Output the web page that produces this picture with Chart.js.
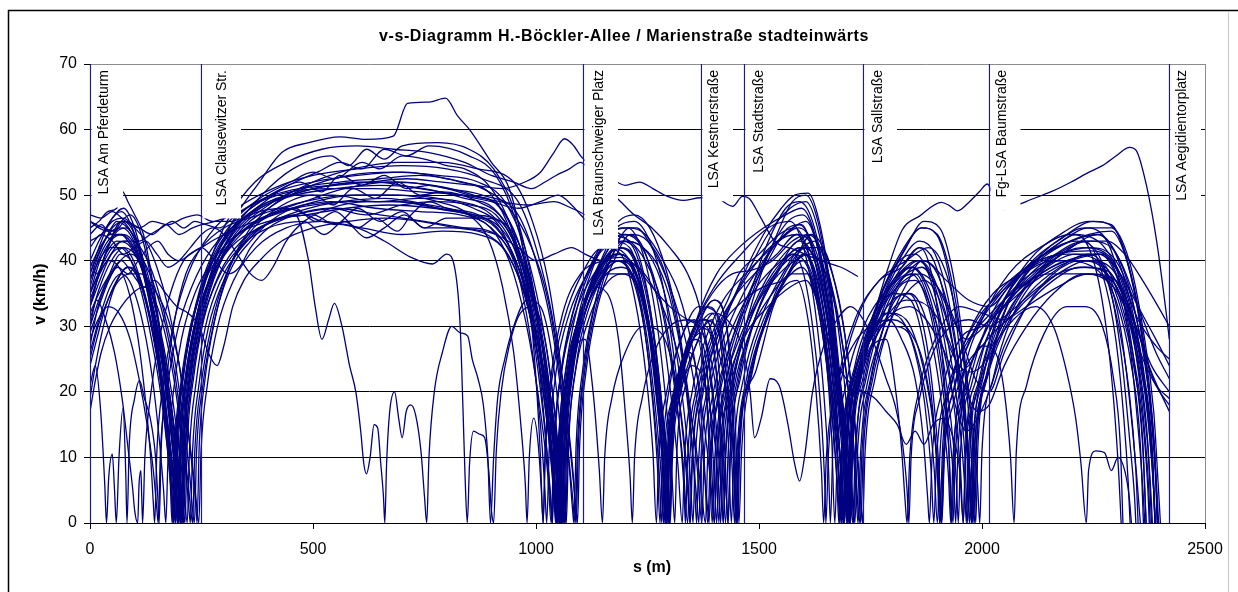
<!DOCTYPE html>
<html>
<head>
<meta charset="utf-8">
<script src="https://cdn.jsdelivr.net/npm/chart.js@4.4.0/dist/chart.umd.min.js"></script>
<style>
html,body{margin:0;padding:0;background:#fff;}
canvas{display:block;}
</style>
</head>
<body>
<canvas id="vs" width="1238" height="592" style="width:1238px;height:592px"></canvas>
<script>
// v-s trajectories, [s (m), v (km/h)]
const trip01=[[0,47],[25,46.5],[50,47.5],[80,46],[110,45],[140,46],[175,45.5],[210,46.5],[240,47],[275,46],[320,46],[360,48],[420,50.5],[500,52],[600,53],[700,53.5],[800,52.5],[880,51],[940,48],[990,42],[1030,33],[1055,22],[1072,11],[1082,4],[1088,0],[1093,12],[1105,22],[1125,31],[1155,39],[1200,44],[1240,42],[1275,33],[1300,21],[1318,9],[1328,0],[1333,10],[1350,20],[1380,28],[1420,34],[1470,38],[1530,42],[1590,45],[1630,41],[1660,32],[1685,19],[1702,8],[1710,0],[1716,11],[1740,22],[1780,32],[1830,38],[1870,40],[1920,37],[1970,34],[2016,33],[2060,36],[2120,40],[2200,43],[2260,44],[2310,40],[2350,33],[2390,26],[2420,22]];
const trip02=[[0,46],[20,45],[40,44.5],[60,46],[85,45],[110,43],[135,44],[160,45],[185,46],[210,45],[235,46],[260,45.5],[290,45],[320,46.5],[360,48.5],[410,50],[470,51],[550,51.5],[630,52],[710,52.5],[790,52],[860,51.5],[925,51],[975,52],[1010,53.5],[1040,56.5],[1064,58.6],[1085,57.5],[1100,56],[1130,54],[1170,52.5],[1200,51.5],[1232,52],[1262,51],[1295,49.8],[1330,49.2],[1369,49.6],[1405,49.5],[1441,48.3],[1463,49.8],[1478,49.5],[1502,46.8],[1535,43],[1580,41.7],[1638,40],[1684,39],[1722,37.6]];
const trip03=[[0,40],[20,43],[45,46],[75,48],[100,45],[125,38],[150,28],[170,18],[185,9],[195,3],[200,0],[205,11],[218,21],[240,30],[275,39],[320,46],[380,52],[430,56.5],[490,58],[560,58.9],[620,58.5],[680,59],[712,64],[760,64.2],[797,64.8],[825,62],[851,60],[900,55],[940,51],[965,44],[985,34],[1000,22],[1010,10],[1016,0],[1021,12],[1035,23],[1060,32],[1100,38],[1150,40],[1190,40.5],[1230,37],[1260,28],[1280,17],[1292,7],[1298,0],[1303,11],[1320,21],[1350,29],[1400,36],[1460,41],[1520,45],[1570,46],[1600,42],[1625,33],[1645,20],[1656,8],[1660,0],[1666,12],[1688,23],[1725,32],[1770,37],[1820,39],[1860,42],[1890,37],[1910,26],[1925,12],[1932,0],[1938,12],[1960,23],[2000,31],[2060,38],[2130,42],[2200,44],[2260,43],[2310,38],[2350,31],[2390,27],[2420,25]];
const trip04=[[0,26],[20,31],[45,36],[70,38],[95,36],[120,30],[140,22],[155,13],[165,5],[170,0],[175,10],[187,20],[205,28],[235,35],[275,40],[330,44],[400,46],[460,47],[490,40],[505,33],[520,28],[535,31],[548,33.5],[565,30],[582,24],[596,20],[607,14],[614,9],[620,7.5],[628,10],[637,15],[645,14.5],[652,9],[658,4],[661,0],[665,9],[672,17],[683,20],[692,16],[700,13],[709,17],[719,18],[730,16.5],[742,11],[750,4],[755,0],[760,10],[772,20],[790,26],[811,30],[830,29],[847,28.5],[857,25],[870,22],[882,18],[892,10],[898,0],[905,10],[914,19],[930,25],[950,30],[980,34],[1010,33],[1035,26],[1055,14],[1064,5],[1068,0],[1073,12],[1090,24],[1120,33],[1165,38],[1210,38],[1250,30],[1275,18],[1288,7],[1293,0],[1299,10],[1320,19],[1350,24],[1380,21],[1400,13],[1410,5],[1414,0],[1420,11],[1440,21],[1480,31],[1530,38],[1580,41],[1620,37],[1655,25],[1675,12],[1684,0],[1690,12],[1715,24],[1760,32],[1800,35],[1840,34],[1870,27],[1890,17],[1900,7],[1905,0],[1912,12],[1935,22],[1980,30],[2040,35],[2110,39],[2190,41],[2260,40],[2300,32],[2330,20],[2345,8],[2350,0]];
const trip05=[[0,35],[25,39],[50,42],[80,43],[110,40],[135,33],[155,24],[172,14],[183,5],[188,0],[193,11],[206,21],[228,30],[260,38],[305,44],[360,47],[440,48],[520,46],[600,45],[660,43],[720,40.5],[768,39.5],[800,41],[820,38],[830,30],[836,18],[841,7],[846,0],[851,9],[860,14],[875,13.5],[885,13],[894,8],[900,2],[905,0],[911,11],[922,20],[940,27],[965,32],[995,33],[1020,28],[1040,18],[1052,8],[1058,0],[1063,11],[1078,22],[1105,31],[1145,37],[1190,39],[1230,36],[1262,26],[1280,14],[1290,4],[1294,0],[1300,11],[1320,22],[1355,30],[1380,31],[1400,26],[1412,14],[1420,0],[1426,11],[1445,21],[1480,29],[1530,35],[1575,38],[1610,38],[1640,30],[1662,18],[1675,6],[1679,0],[1685,11],[1710,22],[1750,29],[1790,31],[1820,28],[1850,22],[1868,13],[1878,4],[1882,0],[1888,10],[1910,20],[1950,28],[2000,30],[2050,33],[2120,37],[2200,40],[2270,41],[2310,36],[2340,25],[2360,12],[2368,0]];
const trip06=[[0,21],[12,24],[24,17],[33,6],[37,0],[42,7],[50,10.5],[55,5],[59,0],[65,10],[74,17.5],[80,8],[83,0],[88,12],[100,19],[111,21.7],[122,19],[135,16],[147,10],[152,4],[155,0],[160,12],[172,22],[190,31],[215,38],[250,42],[300,45],[380,47],[480,49],[580,50],[680,50],[780,49.5],[860,48],[920,45],[960,38],[990,27],[1010,15],[1020,5],[1024,0],[1030,12],[1045,23],[1075,32],[1115,38],[1160,42],[1200,41],[1235,33],[1258,21],[1272,9],[1278,0],[1284,11],[1300,21],[1330,29],[1355,31],[1375,25],[1388,12],[1395,0],[1401,10],[1420,20],[1455,28],[1500,34],[1545,38],[1580,40],[1615,41],[1650,38],[1680,30],[1703,19],[1718,7],[1725,0],[1731,11],[1752,22],[1780,30],[1810,36],[1840,38],[1880,33],[1905,24],[1925,12],[1935,0],[1940,10],[1960,20],[2000,28],[2050,34],[2110,38],[2180,40],[2250,39],[2300,34],[2335,24],[2355,12],[2362,0]];
const trip07=[[0,30],[15,34],[35,31],[55,26],[72,19],[86,11],[96,5],[100,2],[107,0],[110,6],[114,8],[116,4],[118,0],[123,10],[135,19],[155,28],[180,35],[210,40],[250,42],[300,44],[370,46],[460,48],[560,49],[660,49.5],[760,48.5],[850,47],[910,44],[950,38],[985,28],[1010,17],[1027,7],[1034,0],[1040,12],[1057,23],[1088,32],[1130,38],[1180,41],[1220,39],[1255,30],[1278,18],[1292,7],[1298,0],[1304,11],[1325,22],[1360,30],[1400,34],[1430,29],[1445,18],[1452,6],[1455,0],[1461,11],[1485,23],[1525,33],[1575,40],[1605,42],[1640,36],[1665,24],[1680,12],[1688,0],[1694,12],[1720,24],[1760,31],[1810,36],[1860,38],[1910,35],[1950,29],[1985,22],[2016,20],[2050,26],[2100,33],[2160,38],[2220,40],[2270,39],[2310,33],[2340,24],[2360,13],[2368,0]];
const trip08=[[0,33],[25,39],[55,44],[80,45],[110,42],[140,35],[165,26],[185,16],[198,7],[204,2],[207,0],[211,11],[224,21],[246,30],[280,38],[330,44],[400,48],[480,51],[580,53],[680,53.5],[780,53],[870,52],[930,49],[975,42],[1010,32],[1035,21],[1052,10],[1060,3],[1064,0],[1069,12],[1083,23],[1110,32],[1150,39],[1195,43],[1240,42],[1280,37],[1310,28],[1332,17],[1346,7],[1352,0],[1357,10],[1375,20],[1405,28],[1450,35],[1510,41],[1560,44],[1590,45.5],[1630,40],[1660,29],[1683,16],[1697,6],[1702,0],[1707,11],[1730,23],[1770,32],[1820,38],[1860,40],[1900,36],[1935,27],[1960,16],[1975,6],[1980,0],[1986,11],[2010,22],[2050,30],[2110,37],[2180,41],[2230,43],[2270,38],[2300,28],[2318,16],[2328,6],[2332,0]];
const trip09=[[0,38],[20,42],[45,46],[70,47.5],[95,45],[120,39],[145,30],[165,20],[180,10],[188,3],[191,0],[196,12],[209,22],[230,31],[262,39],[310,45],[370,49],[450,52],[500,53.5],[550,52.5],[610,55],[650,54],[700,56],[750,55.5],[800,54.5],[840,54],[900,51],[945,45],[980,36],[1005,25],[1022,13],[1032,4],[1036,0],[1041,12],[1056,23],[1082,32],[1120,39],[1165,44],[1205,45],[1240,41],[1270,31],[1292,18],[1305,7],[1311,0],[1316,11],[1335,21],[1370,29],[1395,31],[1412,22],[1424,10],[1430,0],[1436,11],[1455,22],[1490,31],[1540,38],[1575,41],[1600,38],[1622,29],[1640,16],[1648,5],[1650,0],[1656,11],[1678,22],[1715,31],[1770,37],[1830,40],[1880,42],[1920,38],[1950,29],[1975,17],[1990,6],[1995,0],[2000,11],[2025,22],[2065,31],[2130,38],[2200,42],[2260,44],[2300,41],[2335,33],[2365,22],[2383,10],[2388,0]];
const trip10=[[0,19],[12,24],[30,30],[55,36],[85,39],[110,37],[135,31],[155,23],[170,14],[180,6],[184,0],[189,11],[203,21],[225,30],[258,37],[305,42],[370,46],[450,48],[540,49],[640,48],[740,47.5],[830,47],[900,45],[950,40],[985,32],[1012,22],[1030,12],[1040,4],[1044,0],[1049,11],[1064,22],[1090,30],[1130,36],[1160,35],[1185,28],[1200,17],[1211,7],[1216,0],[1221,10],[1238,19],[1265,26],[1300,30],[1340,31],[1380,28],[1405,20],[1420,10],[1428,3],[1431,0],[1436,11],[1458,22],[1495,32],[1545,39],[1590,43],[1625,40],[1655,30],[1678,17],[1692,6],[1697,0],[1703,11],[1725,21],[1755,27],[1785,28],[1805,21],[1820,11],[1828,3],[1832,0],[1838,10],[1858,20],[1895,28],[1950,33],[2000,32],[2050,31],[2100,34],[2170,38],[2240,40],[2300,38],[2340,31],[2380,24],[2420,20]];
const trip11=[[0,44],[25,45.5],[50,44],[70,46],[90,47],[115,44],[140,36],[162,26],[180,15],[192,6],[197,0],[202,12],[215,22],[237,31],[270,39],[318,45],[380,49],[460,52],[510,53.5],[560,55],[610,54],[660,57],[710,56],[760,57.5],[850,56],[910,53],[955,46],[990,36],[1015,24],[1032,12],[1042,4],[1046,0],[1051,12],[1066,23],[1093,33],[1132,40],[1180,45],[1220,46],[1255,43],[1285,36],[1310,25],[1330,13],[1341,4],[1345,0],[1350,10],[1368,20],[1400,28],[1440,34],[1480,39],[1520,44],[1570,48],[1605,49],[1635,44],[1660,34],[1682,20],[1697,8],[1703,0],[1708,12],[1730,24],[1770,34],[1820,41],[1865,45],[1900,44],[1935,36],[1960,24],[1975,12],[1983,0],[1988,12],[2012,23],[2050,32],[2110,39],[2180,43],[2240,45],[2290,45],[2330,40],[2360,30],[2385,17],[2395,6],[2400,0]];
const trip12=[[0,36],[18,40],[40,43],[65,44],[90,43],[118,39],[145,32],[170,23],[190,14],[203,6],[210,0],[215,12],[229,22],[252,31],[288,39],[338,44],[400,47],[480,49],[570,51],[670,52],[770,51.5],[860,50],[920,48],[965,42],[1000,33],[1025,22],[1043,11],[1052,3],[1055,0],[1060,12],[1075,23],[1103,32],[1143,39],[1190,42],[1225,40],[1255,32],[1278,20],[1292,9],[1299,0],[1304,11],[1325,21],[1355,28],[1375,27],[1392,16],[1401,5],[1405,0],[1411,10],[1430,20],[1465,29],[1515,37],[1570,42],[1620,44],[1655,40],[1685,32],[1708,20],[1722,8],[1728,0],[1734,11],[1755,22],[1790,30],[1830,35],[1870,37],[1905,34],[1935,27],[1958,17],[1972,7],[1977,0],[1983,11],[2008,22],[2050,31],[2115,37],[2190,40],[2260,41],[2310,38],[2350,33],[2390,28],[2420,24]];
const trip13=[[0,40],[15,38],[35,41],[60,43],[85,42.5],[110,40],[135,36],[160,28],[182,18],[198,9],[208,3],[213,0],[218,12],[232,22],[255,31],[290,38],[340,43],[410,46],[500,47],[550,45.5],[600,48],[650,46],[700,47.5],[750,45],[800,46.5],[880,46.5],[940,45],[985,38],[1018,27],[1040,15],[1053,6],[1058,0],[1063,12],[1078,23],[1105,32],[1145,39],[1185,41],[1225,38],[1255,29],[1275,17],[1288,7],[1293,0],[1298,10],[1318,20],[1345,26],[1362,22],[1376,11],[1385,0],[1391,10],[1410,20],[1445,29],[1495,36],[1550,40],[1595,42],[1625,37],[1648,27],[1663,13],[1670,0],[1676,11],[1698,22],[1735,30],[1780,35],[1830,38],[1865,39],[1900,36],[1935,31],[1965,28],[1990,29],[2016,31],[2050,34],[2100,37],[2170,41],[2240,43],[2290,42],[2330,36],[2360,27],[2390,21],[2420,18]];
const trip14=[[0,33],[20,38],[45,43],[70,46],[95,44],[120,39],[145,31],[168,22],[186,12],[198,5],[203,0],[208,11],[222,21],[244,30],[278,38],[325,44],[390,48],[470,51],[560,52],[650,52.5],[740,53],[830,52],[900,50],[945,44],[980,34],[1005,23],[1023,12],[1033,4],[1037,0],[1042,12],[1057,23],[1083,32],[1122,39],[1170,43],[1210,42],[1243,34],[1268,22],[1284,10],[1291,0],[1296,11],[1316,21],[1350,29],[1395,35],[1440,38],[1480,38.5],[1530,40],[1575,43],[1610,44],[1648,40],[1675,31],[1696,18],[1708,6],[1712,0],[1718,12],[1740,23],[1775,32],[1815,37],[1850,38],[1880,34],[1905,26],[1925,15],[1937,6],[1941,0],[1946,11],[1970,21],[2010,30],[2070,37],[2140,41],[2210,43],[2250,42],[2290,35],[2315,24],[2332,12],[2342,4],[2345,0]];
const trip15=[[0,28],[18,31],[40,33],[65,32],[90,28],[110,22],[128,15],[142,8],[150,2],[153,0],[158,11],[172,20],[195,29],[228,36],[275,42],[335,46],[410,49],[500,51],[600,52],[700,52],[800,51],[880,50],[960,47],[1000,40],[1035,30],[1058,19],[1074,9],[1082,2],[1085,0],[1090,12],[1104,23],[1130,33],[1165,40],[1200,43],[1240,42],[1275,39],[1305,33],[1330,24],[1348,13],[1360,4],[1365,0],[1370,10],[1388,20],[1420,28],[1465,35],[1510,40],[1530,42],[1575,45],[1605,46],[1635,41],[1662,30],[1685,17],[1700,6],[1705,0],[1710,11],[1733,22],[1775,30],[1830,34],[1880,33],[1925,28],[1960,21],[1990,17],[2016,18],[2050,24],[2100,30],[2160,35],[2230,38],[2290,37],[2330,31],[2360,22],[2380,12],[2388,0]];
const trip16=[[0,45],[20,46],[40,47.5],[60,48],[72,50.6],[85,49],[100,47],[120,44],[140,37],[160,28],[178,18],[192,9],[200,3],[204,0],[209,12],[222,22],[244,31],[278,39],[325,45],[385,50],[455,54],[540,56],[580,54.5],[620,57],[660,55.5],[700,57.5],[780,58],[850,57],[905,54],[950,48],[985,39],[1012,28],[1033,16],[1047,7],[1053,0],[1058,12],[1073,23],[1100,33],[1140,41],[1185,46],[1220,47],[1255,45],[1290,39],[1320,30],[1342,18],[1355,7],[1360,0],[1365,10],[1383,20],[1415,29],[1460,37],[1510,44],[1550,48],[1580,50],[1610,50.3],[1635,46],[1660,36],[1682,22],[1698,9],[1705,0],[1710,12],[1735,24],[1780,35],[1830,42],[1870,46],[1905,45],[1935,38],[1960,26],[1978,13],[1986,0],[1991,12],[2015,23],[2055,33],[2120,40],[2190,44],[2250,46],[2295,45],[2330,39],[2360,28],[2382,15],[2392,5],[2396,0]];
const trip17=[[0,24],[15,28],[35,33],[60,37],[85,39],[108,38],[130,33],[150,26],[168,18],[182,10],[192,4],[196,0],[201,11],[214,21],[236,30],[270,37],[318,43],[380,46],[460,48],[505,46],[550,47.5],[600,45],[640,46.5],[690,44.5],[720,47],[760,49],[800,48],[870,47],[925,44],[965,38],[995,29],[1018,19],[1035,9],[1044,2],[1047,0],[1052,11],[1067,22],[1094,31],[1135,37],[1175,40],[1212,38],[1242,30],[1262,19],[1276,8],[1282,0],[1287,10],[1305,19],[1335,26],[1370,31],[1405,30],[1428,22],[1442,11],[1449,0],[1454,11],[1476,22],[1515,31],[1565,38],[1600,40],[1630,35],[1655,24],[1673,12],[1683,3],[1685,0],[1690,11],[1712,21],[1750,28],[1790,32],[1830,31],[1860,26],[1885,18],[1900,9],[1908,0],[1913,10],[1935,20],[1975,28],[2030,34],[2100,39],[2170,41],[2240,42],[2300,40],[2340,33],[2370,22],[2388,10],[2393,0]];
const trip18=[[0,46],[30,45],[55,44.5],[80,46],[110,45],[140,44],[170,45.5],[200,44],[230,45],[250,45.5],[280,46],[320,47],[380,49],[450,50.5],[540,51],[640,51],[740,50.5],[840,50],[920,49],[980,48.5],[1040,49],[1080,48],[1110,47],[1150,45],[1190,44],[1225,41],[1255,33],[1278,21],[1293,9],[1300,0],[1305,11],[1325,22],[1360,31],[1405,38],[1455,42],[1510,45],[1560,47],[1595,48],[1625,44],[1652,34],[1675,21],[1692,9],[1699,0],[1705,12],[1728,23],[1770,33],[1820,40],[1860,43],[1895,41],[1925,34],[1950,23],[1966,11],[1972,0],[1978,11],[2002,22],[2042,31],[2100,38],[2170,42],[2240,44],[2290,44.5],[2325,40],[2355,31],[2378,19],[2390,7],[2394,0]];
const trip19=[[0,35],[20,38],[42,40],[65,39],[88,35],[108,28],[124,19],[136,10],[142,3],[145,0],[150,11],[164,21],[186,30],[220,38],[268,44],[330,48],[410,51],[500,53],[600,54],[700,54.5],[800,54],[880,52.5],[960,49],[1000,42],[1035,32],[1062,20],[1080,9],[1090,2],[1093,0],[1098,12],[1112,23],[1138,33],[1175,40],[1212,44],[1250,43],[1290,38],[1320,29],[1345,18],[1362,8],[1372,0],[1377,10],[1395,19],[1425,27],[1470,34],[1520,40],[1565,45],[1595,45.5],[1625,40],[1650,30],[1672,17],[1686,6],[1690,0],[1696,11],[1720,22],[1760,29],[1800,31],[1840,29],[1870,24],[1890,16],[1903,7],[1909,0],[1915,10],[1935,18],[1965,24],[2000,27],[2040,30],[2100,33],[2170,36],[2240,38],[2300,37],[2345,30],[2380,23],[2420,17]];
const trip20=[[0,31],[22,36],[48,40],[75,42],[100,41],[125,37],[150,30],[172,21],[190,12],[202,5],[208,0],[213,11],[227,21],[250,30],[285,37],[335,42],[400,45],[480,46],[525,44],[570,46],[620,43.5],[660,45],[705,47],[750,45],[840,45],[910,44],[960,39],[995,31],[1022,21],[1040,11],[1050,3],[1053,0],[1058,11],[1073,22],[1100,31],[1140,38],[1180,41],[1218,39],[1248,31],[1270,19],[1285,8],[1290,0],[1295,10],[1313,20],[1345,27],[1380,30],[1403,24],[1417,12],[1425,0],[1431,11],[1452,22],[1490,31],[1540,38],[1590,42],[1630,40],[1660,31],[1685,20],[1703,9],[1712,2],[1715,0],[1721,11],[1742,21],[1775,29],[1805,34],[1835,35],[1865,31],[1885,23],[1899,13],[1907,4],[1910,0],[1916,11],[1940,21],[1980,29],[2035,35],[2100,39],[2170,41],[2240,41.5],[2290,40],[2325,34],[2352,24],[2372,12],[2380,0]];
const trip21=[[0,39],[22,42],[48,44.5],[72,45],[98,43],[125,37],[150,29],[172,20],[189,11],[200,4],[205,0],[210,12],[223,22],[245,31],[280,39],[328,45],[392,49],[470,52],[520,50.5],[560,53],[610,51.5],[660,53],[710,51],[760,51.5],[850,50],[915,48.5],[960,43],[995,34],[1022,23],[1042,12],[1054,4],[1058,0],[1063,12],[1078,23],[1105,33],[1145,40],[1190,45],[1225,45],[1260,42],[1300,36],[1335,28],[1360,19],[1376,9],[1385,2],[1388,0],[1393,10],[1410,19],[1440,27],[1480,35],[1515,42],[1560,48],[1590,49],[1620,46],[1648,37],[1672,23],[1690,10],[1697,0],[1702,12],[1726,24],[1768,34],[1815,40],[1850,41],[1880,38],[1910,30],[1935,19],[1952,8],[1958,0],[1963,11],[1987,22],[2027,31],[2090,38],[2160,42],[2210,44],[2250,40],[2278,30],[2296,18],[2307,7],[2312,0]];
const trip22=[[0,27],[18,33],[40,37],[62,39],[85,38],[108,40],[130,42],[152,43],[175,41],[200,40],[225,41],[250,42],[280,40],[310,38],[335,39],[360,42],[400,45],[460,47],[540,48],[620,47],[700,48.5],[780,49],[850,48.5],[910,47],[955,42],[990,33],[1016,22],[1035,11],[1045,3],[1049,0],[1054,11],[1069,22],[1096,31],[1136,38],[1180,42],[1215,41],[1246,33],[1268,21],[1283,9],[1289,0],[1294,10],[1312,20],[1345,28],[1385,33],[1412,30],[1430,20],[1440,8],[1445,0],[1451,11],[1472,22],[1510,31],[1555,36],[1585,37],[1610,31],[1628,20],[1640,8],[1645,0],[1651,10],[1672,20],[1710,27],[1760,30],[1800,30],[1835,29],[1860,24],[1880,17],[1893,8],[1900,0],[1906,11],[1930,21],[1970,29],[2025,35],[2090,38],[2160,40],[2230,40],[2290,38],[2330,32],[2360,23],[2380,12],[2388,0]];
const trip23=[[0,32],[20,35],[45,38],[70,40],[95,38],[120,36],[145,37],[170,35],[195,33],[220,32],[245,30],[265,26],[285,24],[300,27],[320,33],[345,37],[380,40],[430,43],[500,45],[580,46],[660,46.5],[740,46],[820,45],[890,44],[945,40],[985,32],[1013,22],[1033,11],[1043,3],[1047,0],[1052,11],[1067,21],[1090,27],[1110,28],[1128,20],[1142,8],[1149,0],[1154,10],[1170,19],[1200,26],[1240,30],[1280,29],[1310,23],[1330,14],[1342,5],[1346,0],[1351,10],[1372,20],[1410,29],[1466,34],[1510,36],[1555,37],[1595,39],[1625,35],[1650,25],[1668,13],[1678,4],[1681,0],[1686,11],[1708,21],[1745,28],[1785,32],[1820,31],[1850,26],[1872,18],[1886,8],[1892,0],[1898,10],[1922,20],[1962,27],[2020,32],[2085,36],[2150,38],[2220,38],[2280,37],[2320,33],[2355,26],[2390,21],[2420,19]];
const trip24=[[0,42],[25,44],[50,43],[75,41],[100,42],[125,43],[150,41],[175,39],[200,40],[225,42],[250,44],[275,45],[300,44],[330,41],[360,38],[385,37],[410,39],[440,43],[480,46],[540,48],[620,49],[700,49],[780,48],[850,47],[910,45],[955,40],[990,32],[1016,22],[1036,11],[1046,3],[1050,0],[1055,11],[1070,22],[1097,31],[1138,38],[1183,42],[1220,40],[1250,32],[1272,20],[1286,9],[1292,0],[1297,10],[1316,20],[1345,27],[1370,29],[1390,23],[1403,12],[1410,0],[1416,11],[1437,21],[1475,30],[1525,37],[1580,41],[1625,43],[1660,37],[1688,27],[1708,14],[1718,4],[1722,0],[1728,11],[1750,22],[1785,31],[1815,36],[1850,37],[1885,33],[1915,26],[1940,18],[1965,14],[1990,16],[2016,20],[2050,27],[2100,33],[2160,37],[2220,39],[2280,38.5],[2320,34],[2355,26],[2375,14],[2386,4],[2389,0]];
const trip25=[[0,17],[10,21],[25,26],[45,30],[70,33],[95,35],[120,36],[145,34],[168,29],[188,22],[204,14],[216,7],[222,2],[225,0],[230,11],[244,21],[266,30],[300,37],[348,43],[410,46],[490,48],[580,49],[680,49],[780,48],[860,47],[920,45],[965,40],[1000,32],[1027,22],[1046,12],[1058,4],[1062,0],[1067,12],[1082,23],[1110,32],[1150,38],[1190,40],[1230,39],[1270,35],[1305,29],[1335,21],[1358,12],[1372,4],[1380,0],[1385,10],[1402,19],[1430,26],[1465,33],[1505,39],[1545,43],[1585,44],[1620,39],[1648,29],[1671,16],[1686,6],[1690,0],[1695,11],[1718,22],[1758,31],[1805,37],[1845,39],[1880,36],[1910,30],[1940,25],[1970,23],[2000,24],[2030,28],[2085,35],[2155,40],[2225,42],[2280,41],[2320,36],[2350,27],[2372,16],[2385,5],[2388,0]];
const trip26=[[0,37],[20,41],[45,44],[70,44],[95,42],[120,40],[145,36],[170,30],[192,22],[208,13],[220,6],[226,2],[230,0],[235,11],[249,21],[272,30],[306,38],[355,44],[420,48],[500,50],[545,48.5],[590,51],[640,49.5],[690,52],[740,50],[790,50.5],[870,49],[930,46],[975,39],[1010,29],[1035,18],[1052,8],[1060,0],[1065,12],[1080,23],[1108,33],[1148,40],[1192,44],[1228,43],[1262,38],[1290,30],[1312,20],[1330,9],[1340,0],[1345,10],[1363,20],[1395,28],[1440,34],[1490,38],[1540,41],[1585,44],[1620,42],[1650,33],[1675,20],[1693,8],[1700,0],[1705,11],[1728,22],[1768,32],[1815,38],[1855,40],[1890,37],[1920,29],[1945,18],[1960,7],[1965,0],[1970,11],[1994,22],[2034,31],[2095,37],[2165,41],[2230,43],[2280,43],[2320,41],[2360,37],[2395,33],[2420,30]];
const trip27=[[0,43],[25,44],[50,46],[75,46.5],[100,45],[125,43],[150,39],[175,33],[198,25],[216,16],[230,8],[237,3],[240,0],[245,12],[258,22],[280,31],[313,39],[360,45],[420,49],[500,52],[590,54],[690,55],[790,55],[870,54],[950,52],[992,46],[1027,37],[1052,26],[1072,15],[1085,6],[1090,0],[1095,12],[1109,23],[1135,33],[1172,41],[1210,45],[1245,44],[1285,40],[1320,35],[1350,27],[1375,16],[1392,6],[1400,0],[1405,10],[1422,20],[1450,28],[1490,36],[1520,41],[1565,46],[1598,47],[1628,43],[1655,33],[1678,20],[1695,8],[1702,0],[1707,12],[1730,23],[1772,33],[1820,39],[1860,42],[1892,40],[1920,33],[1945,22],[1962,10],[1968,0],[1973,11],[1997,22],[2038,32],[2100,39],[2170,43],[2230,45],[2270,44],[2305,38],[2330,28],[2348,16],[2360,6],[2365,0]];
const trip28=[[0,29],[20,33],[42,37],[68,40],[92,41],[118,39],[142,34],[165,27],[185,19],[200,11],[211,5],[218,0],[223,11],[237,21],[259,30],[293,37],[340,42],[405,46],[485,47],[575,48],[670,48.5],[770,48],[860,47],[920,46],[962,41],[996,33],[1024,23],[1043,12],[1054,4],[1057,0],[1062,11],[1077,22],[1104,31],[1144,37],[1185,40],[1222,38],[1252,30],[1274,18],[1289,7],[1294,0],[1299,10],[1318,20],[1352,28],[1395,32],[1418,25],[1431,13],[1438,0],[1444,11],[1465,22],[1503,31],[1553,38],[1600,42],[1640,42],[1672,36],[1698,26],[1717,14],[1728,4],[1732,0],[1738,11],[1760,22],[1795,31],[1835,37],[1865,40],[1900,38],[1930,31],[1955,20],[1972,9],[1978,0],[1983,11],[2007,21],[2047,29],[2105,35],[2175,39],[2240,41],[2280,38],[2310,30],[2332,18],[2347,7],[2355,0]];
const trip29=[[0,38],[25,42],[50,45],[75,46],[100,44],[125,38],[148,30],[168,21],[184,12],[195,5],[199,0],[204,12],[217,22],[238,31],[270,40],[315,47],[370,52],[440,55],[520,57],[600,57.5],[680,57],[760,56.5],[840,55],[900,53],[950,52],[990,51],[1020,52],[1045,53],[1075,54],[1100,55],[1130,53],[1160,51],[1190,49],[1220,47],[1260,45],[1300,42],[1340,38],[1370,32],[1395,21],[1410,10],[1418,2],[1420,0],[1425,11],[1442,21],[1470,30],[1505,38],[1540,44],[1575,49],[1605,50],[1632,46],[1658,36],[1680,22],[1696,9],[1703,0],[1708,12],[1732,24],[1775,35],[1825,42],[1865,45],[1898,44],[1928,37],[1952,25],[1968,12],[1976,0],[1981,12],[2005,23],[2045,33],[2105,40],[2175,44],[2240,46],[2290,45.5],[2325,40],[2355,30],[2378,17],[2390,6],[2393,0]];
const trip30=[[0,35],[22,40],[46,43],[70,44],[95,43],[120,38],[143,30],[162,21],[176,12],[183,5],[186,0],[191,11],[205,21],[227,30],[262,38],[310,44],[372,48],[450,50],[540,51.5],[640,52],[740,51],[830,50],[900,49],[960,48],[1010,49],[1050,50],[1080,48.5],[1100,47],[1130,45],[1170,44],[1210,43],[1245,40],[1280,34],[1305,25],[1322,14],[1332,5],[1335,0],[1340,10],[1358,20],[1390,28],[1430,34],[1455,38],[1500,41],[1545,44],[1580,45],[1612,41],[1642,31],[1665,18],[1680,7],[1685,0],[1690,11],[1713,22],[1752,31],[1800,37],[1840,39],[1875,36],[1905,28],[1928,17],[1942,7],[1947,0],[1952,11],[1976,21],[2016,29],[2075,35],[2145,39],[2210,41],[2265,41],[2305,37],[2340,28],[2362,16],[2374,5],[2377,0]];
const trip31=[[0,33],[22,37],[48,41],[73,42],[98,40],[122,35],[145,28],[165,20],[181,11],[192,4],[196,0],[201,11],[215,21],[237,30],[272,38],[320,44],[382,48],[460,50],[550,51],[650,51.5],[750,51],[840,49.5],[905,48],[952,43],[990,34],[1018,23],[1038,12],[1049,4],[1053,0],[1058,12],[1073,23],[1100,32],[1140,39],[1185,43],[1222,42],[1253,34],[1276,22],[1292,10],[1299,0],[1304,11],[1324,21],[1358,29],[1400,34],[1425,31],[1438,20],[1445,8],[1448,0],[1454,12],[1492,23],[1532,33],[1580,40],[1618,44],[1648,38],[1672,26],[1690,13],[1700,4],[1704,0],[1709,12],[1728,22],[1760,32],[1790,39],[1822,44.8],[1860,46.8],[1909,48.9],[1927,48.4],[1945,47.6],[1972,49],[1995,50.6],[2012,51.7],[2030,49],[2050,47.8],[2062,48],[2084,48.6],[2120,49.6],[2158,50.6],[2200,52],[2240,53.5],[2270,54.5],[2301,56],[2331,57.3],[2346,56.8],[2369,51.4],[2392,42.8],[2414,31.5],[2420,28]];
const trip32=[[0,30],[20,34],[44,38],[68,41],[92,40],[116,36],[140,29],[160,21],[177,12],[188,5],[192,0],[197,11],[211,21],[233,30],[267,37],[315,42],[380,45],[460,47],[550,48],[650,47],[750,46],[840,45],[910,44],[960,42],[1000,40],[1040,41],[1080,42],[1110,41],[1150,40],[1190,41],[1225,39],[1260,36],[1300,33],[1340,31],[1369,30],[1400,28],[1425,21],[1442,11],[1450,0],[1455,11],[1478,22],[1516,31],[1565,38],[1600,41],[1630,37],[1656,27],[1676,15],[1688,5],[1692,0],[1697,11],[1720,21],[1758,28],[1800,32],[1838,33],[1875,31],[1910,27],[1940,23],[1970,24],[2000,27],[2030,26],[2050,20],[2064,10],[2072,0],[2077,11],[2100,21],[2140,29],[2190,33],[2230,33],[2270,30],[2295,22],[2310,12],[2316,0]];
const trip33=[[0,34],[22,38],[47,41],[72,43],[97,43],[122,41],[146,37],[170,31],[192,24],[210,15],[224,7],[230,2],[234,0],[239,11],[253,21],[276,30],[311,38],[360,43],[425,47],[505,49],[595,50],[690,50],[780,49],[850,47],[895,43],[925,36],[950,26],[966,15],[976,6],[980,0],[985,10],[995,16],[1005,12],[1012,5],[1016,0],[1021,11],[1036,22],[1063,31],[1103,38],[1150,42],[1190,41],[1222,34],[1246,23],[1262,11],[1270,0],[1275,10],[1293,20],[1325,28],[1365,33],[1405,32],[1430,24],[1445,13],[1452,0],[1457,11],[1480,22],[1518,31],[1568,38],[1605,41],[1635,36],[1660,25],[1678,13],[1688,4],[1691,0],[1696,11],[1718,21],[1755,29],[1800,34],[1838,35],[1870,32],[1895,25],[1913,16],[1925,7],[1930,0],[1935,10],[1958,20],[1998,28],[2060,34],[2130,38],[2200,40],[2260,40],[2300,36],[2335,27],[2360,16],[2372,5],[2375,0]];
const trip34=[[0,37],[20,40],[44,42],[68,42],[92,40],[116,35],[138,28],[158,20],[174,11],[183,4],[187,0],[192,11],[206,21],[228,30],[263,38],[312,44],[375,48],[455,50],[545,50],[640,49],[735,49.5],[830,49],[900,47],[950,42],[988,33],[1015,23],[1035,12],[1046,4],[1050,0],[1055,11],[1070,22],[1097,31],[1137,37],[1178,40],[1215,38],[1245,30],[1267,18],[1281,7],[1286,0],[1291,10],[1310,20],[1340,27],[1362,28],[1380,21],[1393,10],[1400,0],[1406,10],[1426,20],[1465,28],[1520,33],[1570,36],[1605,37],[1635,33],[1660,27],[1685,23],[1710,21],[1734,20],[1760,19],[1785,17],[1810,15],[1830,12],[1850,14],[1870,12],[1890,15],[1915,16],[1935,13],[1950,8],[1958,0],[1963,10],[1985,19],[2020,26],[2070,31],[2120,33],[2160,30],[2190,23],[2210,16],[2222,9],[2234,0],[2239,8],[2255,11],[2275,10.7],[2290,8],[2305,10],[2320,8],[2330,4],[2335,0]];
const trip35=[[0,25],[18,30],[40,34],[65,37],[90,38],[115,38],[140,36],[165,33],[188,28],[208,21],[224,12],[236,5],[244,0],[249,11],[263,21],[286,30],[322,37],[372,42],[440,45],[520,46],[610,45],[700,44],[790,44.5],[870,44],[925,42],[970,36],[1003,28],[1030,19],[1050,10],[1062,3],[1066,0],[1071,11],[1086,22],[1113,30],[1152,36],[1192,38],[1228,36],[1258,29],[1280,18],[1295,8],[1301,0],[1306,10],[1325,20],[1358,27],[1400,32],[1440,30],[1466,26],[1480,20],[1490,13],[1505,16],[1525,22],[1545,21],[1565,15],[1580,9],[1591,6.4],[1602,10],[1620,20],[1645,27],[1675,31],[1705,33],[1734,31],[1760,27],[1785,22],[1805,18],[1822,12],[1832,5],[1836,0],[1841,10],[1860,19],[1890,26],[1930,30],[1970,31],[2016,30],[2060,32],[2110,35],[2170,38],[2230,39],[2280,38],[2320,33],[2350,24],[2370,13],[2380,3],[2382,0]];

const trips=[trip01,trip02,trip03,trip04,trip05,trip06,trip07,trip08,trip09,trip10,trip11,trip12,trip13,trip14,trip15,trip16,trip17,trip18,trip19,trip20,trip21,trip22,trip23,trip24,trip25,trip26,trip27,trip28,trip29,trip30,trip31,trip32,trip33,trip34,trip35];

// signal stations along the route
const signalNames=['LSA Am Pferdeturm','LSA Clausewitzer Str.','LSA Braunschweiger Platz','LSA Kestnerstraße','LSA Stadtstraße','LSA Sallstraße','Fg-LSA Baumstraße','LSA Aegidientorplatz'];
const signalPos=[0,249,1106,1369,1466,1734,2016,2420];

const sTicks=[0,500,1000,1500,2000,2500];
const vTicks=[0,10,20,30,40,50,60,70];

const chartTitle='v-s-Diagramm H.-Böckler-Allee / Marienstraße stadteinwärts';
const xTitle='s (m)';
const yTitle='v (km/h)';

const FONT='"Liberation Sans", Arial, sans-serif';
const NAVY='#000080';
const labelOffset=[14,21,16,13,14.5,15,12.5,13];

const overlay={
  id:'overlay',
  afterDatasetsDraw(chart){
    const ctx=chart.ctx, a=chart.chartArea, x=chart.scales.x;
    ctx.save();
    ctx.strokeStyle='#1a1a96';
    ctx.lineWidth=1.2;
    signalPos.forEach(s=>{
      const px=Math.round(x.getPixelForValue(s))+0.5;
      ctx.beginPath();
      ctx.moveTo(px,a.top);
      ctx.lineTo(px,a.bottom);
      ctx.stroke();
    });
    ctx.font='14px '+FONT;
    signalNames.forEach((name,i)=>{
      const px=Math.round(x.getPixelForValue(signalPos[i]))+0.5;
      const off=labelOffset[i];
      const w=ctx.measureText(name).width;
      ctx.fillStyle='#fff';
      ctx.fillRect(px+1,a.top+1,off+17.5,w+18);
      ctx.save();
      ctx.translate(px+off,a.top+6);
      ctx.rotate(-Math.PI/2);
      ctx.fillStyle='#000';
      ctx.textAlign='right';
      ctx.textBaseline='middle';
      ctx.fillText(name,0,0);
      ctx.restore();
    });
    ctx.restore();
  },
  afterDraw(chart){
    const ctx=chart.ctx;
    ctx.save();
    // frame
    ctx.strokeStyle='#000';
    ctx.lineWidth=1.5;
    ctx.beginPath();
    ctx.moveTo(8.5,592);ctx.lineTo(8.5,10.5);ctx.lineTo(1238,10.5);
    ctx.stroke();
    ctx.strokeStyle='#c8c8c8';
    ctx.lineWidth=1;
    ctx.beginPath();ctx.moveTo(1228.5,11);ctx.lineTo(1228.5,592);ctx.stroke();

    ctx.fillStyle='#000';
    ctx.font='bold 16px '+FONT;
    ctx.textAlign='center';
    ctx.textBaseline='middle';
    if('letterSpacing' in ctx) ctx.letterSpacing='0.6px';
    ctx.fillText(chartTitle,624,37);
    if('letterSpacing' in ctx) ctx.letterSpacing='0px';
    ctx.fillText(xTitle,652,568);
    ctx.translate(41,294);
    ctx.rotate(-Math.PI/2);
    ctx.fillText(yTitle,0,0);
    ctx.restore();
  }
};

new Chart(document.getElementById('vs'),{
  type:'line',
  data:{
    datasets:trips.map(t=>({
      data:t,
      borderColor:NAVY,
      borderWidth:1.3,
      pointRadius:0,
      fill:false,
      cubicInterpolationMode:'monotone'
    }))
  },
  options:{
    responsive:false,
    animation:false,
    devicePixelRatio:1,
    events:[],
    layout:{padding:{left:0,right:33,top:64,bottom:0}},
    plugins:{legend:{display:false},tooltip:{enabled:false},title:{display:false}},
    scales:{
      x:{
        type:'linear',min:0,max:2500,
        afterBuildTicks:s=>{s.ticks=sTicks.map(v=>({value:v}));},
        afterFit:s=>{s.height=69;},
        ticks:{font:{family:FONT,size:16},color:'#000',padding:11,maxRotation:0,callback:v=>String(v)},
        grid:{color:c=>c.tick&&c.tick.value===2500?'#8c8c8c':'rgba(0,0,0,0)',tickColor:'#000',tickLength:6,lineWidth:1},
        border:{color:'#000',width:1}
      },
      y:{
        type:'linear',min:0,max:70,
        afterBuildTicks:s=>{s.ticks=vTicks.map(v=>({value:v}));},
        afterFit:s=>{s.width=90;},
        ticks:{font:{family:FONT,size:16},color:'#000',padding:7,callback:v=>String(v)},
        grid:{color:c=>c.tick&&c.tick.value===70?'#8c8c8c':'#000',tickColor:'#000',tickLength:6,lineWidth:1},
        border:{color:'#000',width:1}
      }
    }
  },
  plugins:[overlay]
});
</script>
</body>
</html>
